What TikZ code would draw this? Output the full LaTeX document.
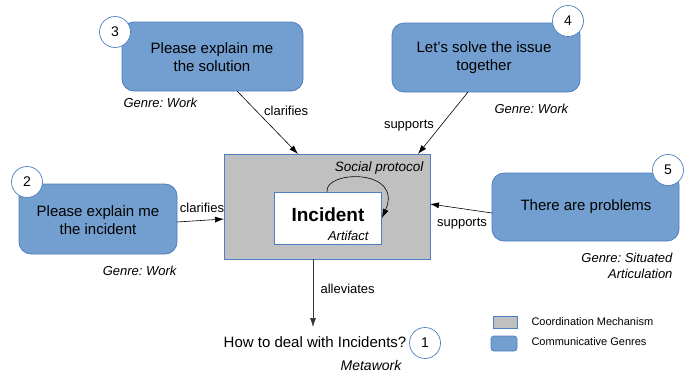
\documentclass[tikz,border=0pt]{standalone}
\usepackage{fontspec}
\setmainfont{Liberation Sans}
\usetikzlibrary{arrows.meta}
\definecolor{gblue}{HTML}{729FCF}
\definecolor{gborder}{HTML}{4F7FC0}
\definecolor{ggray}{HTML}{C0C0C0}
\frenchspacing
\tikzset{
  genre/.style={draw=gborder, fill=gblue, rounded corners=12pt, line width=0.8pt},
  num/.style={circle, draw=gborder, fill=white, minimum size=31pt, inner sep=0pt, font=\fontsize{14}{16}\selectfont, line width=0.7pt},
  gtext/.style={align=center, font=\fontsize{15}{18}\selectfont},
  glabel/.style={font=\fontsize{13}{16}\selectfont\itshape},
  elabel/.style={font=\fontsize{13}{16}\selectfont},
  conn/.style={-{Latex[length=9pt,width=6pt]}, line width=0.6pt},
}
\begin{document}
\begin{tikzpicture}[x=1pt,y=-1pt]
\useasboundingbox[fill=white] (0,0) rectangle (691,376);
% coordination mechanism
\draw[draw=gborder, fill=ggray, line width=0.8pt] (224,154) rectangle (430,259);
\coordinate (cmL) at (224,219);
\coordinate (cmR) at (430,204);
\coordinate (cmB) at (313,259);
\node[draw=gborder, fill=white, line width=0.8pt, minimum width=107pt, minimum height=52pt, inner sep=0pt] (art) at (327.5,218) {};
\node[font=\fontsize{19}{22}\selectfont\bfseries] (inc) at (328,215) {Incident};
\node[font=\fontsize{13}{15}\selectfont\itshape, anchor=east] (artlbl) at (372,236) {Artifact};
\node[font=\fontsize{13.5}{16}\selectfont\itshape, anchor=east] (sp) at (427,168) {Social protocol};
\coordinate (ls) at (327,192);
\coordinate (le) at (382,218);
\draw[conn] (ls) .. controls (324,170) and (404,168) .. (le);
% box 3
\node[genre, minimum width=181pt, minimum height=69pt] (b3) at (212.5,56.5) {};
\node[gtext] (t3) at (212,57) {Please explain me\\the solution};
\node[num] (n3) at (115,32) {3};
\node[glabel, anchor=west] (g3) at (120,103) {Genre: Work};
% box 4
\node[genre, minimum width=188pt, minimum height=69pt] (b4) at (486,57.5) {};
\node[gtext] (t4) at (484,58) {Let{\char"27}s solve the issue\\together};
\node[num] (n4) at (568,21) {4};
\node[glabel, anchor=west] (g4) at (491,109) {Genre: Work};
% box 2
\node[genre, minimum width=158pt, minimum height=70pt] (b2) at (98,219) {};
\node[gtext] (t2) at (98,220) {Please explain me\\the incident};
\node[num] (n2) at (27,182) {2};
\node[glabel, anchor=east] (g2) at (180,271) {Genre: Work};
% box 5
\node[genre, minimum width=187pt, minimum height=68pt] (b5) at (585.5,207) {};
\node[gtext] (t5) at (586,207) {There are problems};
\node[num] (n5) at (668,170) {5};
\node[glabel, anchor=east, align=right] (g5) at (676,266) {Genre: Situated\\Articulation};
% metawork
\node[font=\fontsize{15}{18}\selectfont] (q) at (315,342) {How to deal with Incidents?};
\node[num] (n1) at (425,343) {1};
\node[glabel, font=\fontsize{14}{16}\selectfont\itshape] (mw) at (371,365) {Metawork};
% connectors
\coordinate (s3) at (237,91);
\coordinate (e3) at (298,154);
\draw[conn] (s3) -- (e3) node[elabel, pos=0.32, right=4pt] {clarifies};
\coordinate (s4) at (468,92);
\coordinate (e4) at (418,154);
\draw[conn] (s4) -- (e4) node[elabel, pos=0.55, left=3pt] {supports};
\coordinate (s2) at (177,222);
\draw[conn] (s2) -- (cmL);
\node[elabel] (l2) at (202,208) {clarifies};
\coordinate (s5) at (492,213);
\draw[conn] (s5) -- (cmR);
\node[elabel] (l5) at (462,224) {supports};
\coordinate (eq) at (313,327);
\draw[conn, draw=black!80] (cmB) -- (eq);
\node[elabel, anchor=west] (l1) at (317,289) {alleviates};
% legend
\node[draw=gborder, fill=ggray, minimum width=24pt, minimum height=12pt, inner sep=0pt, line width=0.7pt] (lg1) at (505,322) {};
\node[draw=gborder, fill=gblue, rounded corners=3pt, minimum width=26pt, minimum height=15pt, inner sep=0pt, line width=0.7pt] (lg2) at (504,343.5) {};
\node[font=\fontsize{11}{13}\selectfont, anchor=west] (lt1) at (528,322) {Coordination Mechanism};
\node[font=\fontsize{11}{13}\selectfont, anchor=west] (lt2) at (528,342) {Communicative Genres};
\end{tikzpicture}
\end{document}
